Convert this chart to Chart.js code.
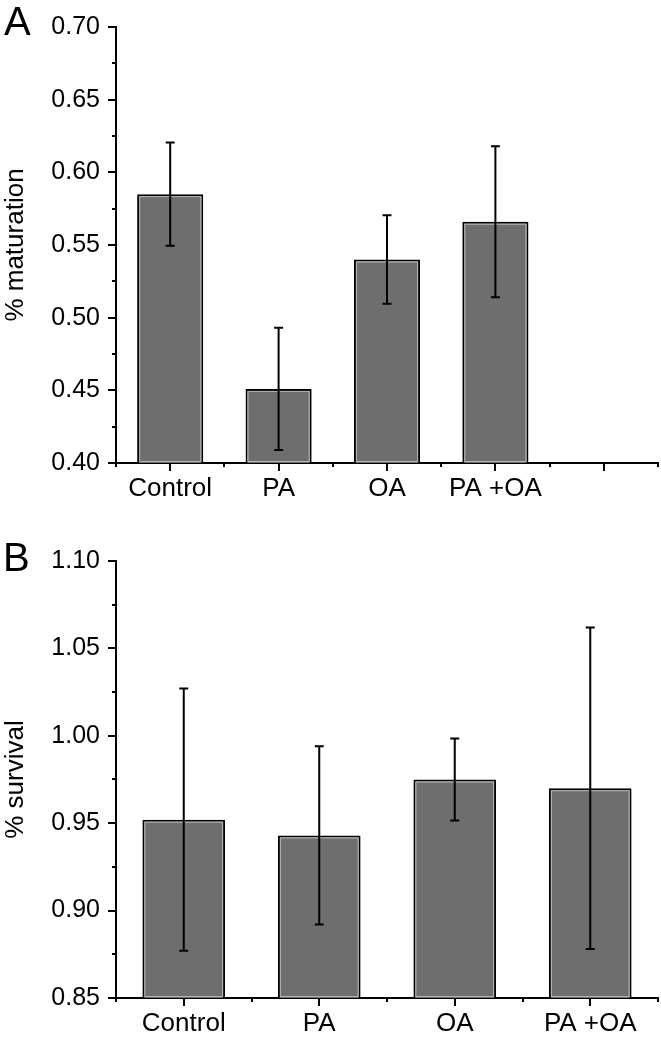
<!DOCTYPE html>
<html>
<head>
<meta charset="utf-8">
<script src="https://cdn.jsdelivr.net/npm/chart.js@4.4.0/dist/chart.umd.min.js"></script>
<style>
  body { margin: 0; background: #fff; width: 661px; height: 1038px; position: relative; overflow: hidden;
         font-family: "Liberation Sans", Arial, sans-serif; }
  .panel { position: absolute; left: 0; width: 661px; }
  .letter { position: absolute; font-size: 40px; line-height: 1; color: #000; }
</style>
</head>
<body>
<div class="panel" style="top:0;height:505px"><canvas id="chartA"></canvas></div>
<div class="panel" style="top:505px;height:533px"><canvas id="chartB"></canvas></div>
<div class="letter" style="left:4px;top:1px">A</div>
<div class="letter" style="left:3px;top:537px">B</div>
<script>
// panel A
const categoriesA = ["Control", "PA", "OA", "PA +OA", ""];
const maturation = [0.585, 0.451, 0.540, 0.566, null];
const maturationErr = [0.0355, 0.042, 0.0305, 0.052, null];

// panel B
const categoriesB = ["Control", "PA", "OA", "PA +OA"];
const survival = [0.952, 0.943, 0.975, 0.970];
const survivalErr = [0.075, 0.051, 0.0235, 0.092];

const FONT = "'Liberation Sans', Arial, sans-serif";

// error bars, inner bar highlight and minor ticks
const extras = {
    id: "extras",
    afterDatasetsDraw(chart, args, opts) {
        const ctx = chart.ctx;
        const ys = chart.scales.y, xs = chart.scales.x;
        const area = chart.chartArea;
        const vals = chart.data.datasets[0].data;
        const meta = chart.getDatasetMeta(0);
        ctx.save();
        // light inner edge of the bars
        meta.data.forEach(function(bar, i) {
            if (vals[i] == null) return;
            const p = bar.getProps(["x", "y", "base", "width"], true);
            const bottom = Math.min(p.base, area.bottom);
            ctx.strokeStyle = "#b4b4b4";
            ctx.lineWidth = 1;
            ctx.strokeRect(p.x - p.width / 2 + 2.5, p.y + 2.5, p.width - 5, bottom - p.y - 4);
        });
        // error bars
        ctx.strokeStyle = "#000";
        ctx.lineWidth = 2;
        opts.errors.forEach(function(e, i) {
            if (e == null || vals[i] == null) return;
            const xc = xs.getPixelForValue(i);
            const top = ys.getPixelForValue(vals[i] + e);
            const bot = ys.getPixelForValue(vals[i] - e);
            ctx.beginPath();
            ctx.moveTo(xc, top); ctx.lineTo(xc, bot);
            ctx.moveTo(xc - 4.5, top); ctx.lineTo(xc + 4.5, top);
            ctx.moveTo(xc - 4.5, bot); ctx.lineTo(xc + 4.5, bot);
            ctx.stroke();
        });
        ctx.restore();
    },
    afterDraw(chart) {
        const ctx = chart.ctx;
        const ys = chart.scales.y, xs = chart.scales.x;
        const area = chart.chartArea;
        ctx.save();
        ctx.strokeStyle = "#000";
        ctx.lineWidth = 2;
        ctx.beginPath();
        // minor y ticks halfway between labelled ticks
        const t = ys.ticks;
        for (let i = 0; i < t.length - 1; i++) {
            const py = Math.round(ys.getPixelForValue((t[i].value + t[i + 1].value) / 2));
            ctx.moveTo(area.left, py); ctx.lineTo(area.left - 4, py);
        }
        // minor x ticks on category boundaries
        const n = chart.data.labels.length;
        const slot = xs.getPixelForValue(1) - xs.getPixelForValue(0);
        for (let i = 0; i <= n; i++) {
            const px = Math.round(xs.getPixelForValue(i) - slot / 2);
            ctx.moveTo(px, area.bottom); ctx.lineTo(px, area.bottom + 4);
        }
        ctx.stroke();
        ctx.restore();
    }
};

function makeChart(id, labels, values, errors, yMin, yMax, title, padTop, xHeight) {
    return new Chart(document.getElementById(id).getContext("2d"), {
        type: "bar",
        data: {
            labels: labels,
            datasets: [{
                data: values,
                backgroundColor: "#6e6e6e",
                borderColor: "#000",
                borderWidth: 2,
                borderSkipped: false,
                barPercentage: 0.61,
                categoryPercentage: 1.0
            }]
        },
        options: {
            responsive: true,
            maintainAspectRatio: false,
            animation: false,
            layout: { padding: { top: padTop, right: 3, left: 0, bottom: 0 } },
            plugins: {
                legend: { display: false },
                tooltip: { enabled: false },
                extras: { errors: errors }
            },
            scales: {
                x: {
                    offset: true,
                    grid: { offset: false, drawOnChartArea: false, color: "#000", lineWidth: 2, tickLength: 8 },
                    border: { display: true, color: "#000", width: 2 },
                    ticks: { color: "#000", font: { family: FONT, size: 26 }, padding: 2, maxRotation: 0, autoSkip: false },
                    afterFit: function(s) { s.height = xHeight; }
                },
                y: {
                    min: yMin,
                    max: yMax,
                    grid: { drawOnChartArea: false, color: "#000", lineWidth: 2, tickLength: 8 },
                    border: { display: true, color: "#000", width: 2 },
                    ticks: {
                        stepSize: 0.05,
                        color: "#000",
                        font: { family: FONT, size: 25 },
                        padding: 8,
                        callback: function(v) { return v.toFixed(2); }
                    },
                    title: {
                        display: true,
                        text: title,
                        color: "#000",
                        font: { family: FONT, size: 26 },
                        padding: { top: 0, bottom: 0 }
                    },
                    afterFit: function(s) { s.width = 116; }
                }
            }
        },
        plugins: [extras]
    });
}

makeChart("chartA", categoriesA, maturation, maturationErr, 0.40, 0.70, "% maturation", 27, 42);
makeChart("chartB", categoriesB, survival, survivalErr, 0.85, 1.10, "% survival", 56, 40);
</script>
</body>
</html>
